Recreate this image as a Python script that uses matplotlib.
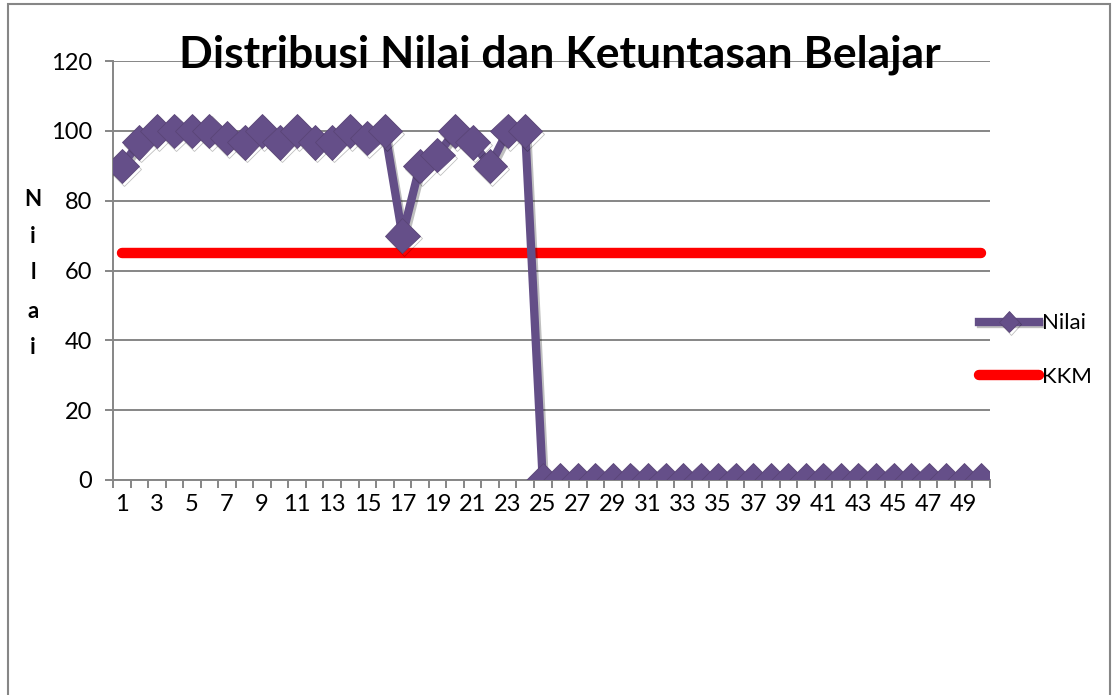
import matplotlib
matplotlib.use("Agg")
import matplotlib.pyplot as plt
import matplotlib.patheffects as pe
from matplotlib.patches import Rectangle

plt.rcParams['font.family'] = ['Lato', 'DejaVu Sans']

# data
siswa = list(range(1, 51))
nilai = [90, 96.67, 100, 100, 100, 100, 98, 96.67, 100, 96.67,
         100, 96.67, 96.67, 100, 98, 100, 70, 90, 93, 100,
         96.67, 90, 100, 100, 0, 0, 0, 0, 0, 0,
         0, 0, 0, 0, 0, 0, 0, 0, 0, 0,
         0, 0, 0, 0, 0, 0, 0, 0, 0, 0]
kkm = 65
yticks = [0, 20, 40, 60, 80, 100, 120]
xlabels = list(range(1, 50, 2))

grey = '#868686'
purple = '#634e87'

fig = plt.figure(figsize=(11.12, 6.95), dpi=100)
ax = fig.add_axes([113/1112, 1-480/695, 877/1112, 419/695])

ax.grid(axis='y', color=grey, lw=1.4, zorder=0)
ax.plot(siswa, [kkm]*len(siswa), color='red', lw=7.5, solid_capstyle='round',
        label='KKM', zorder=2)
shadow = [pe.SimpleLineShadow(offset=(1.5, -2), alpha=0.25), pe.Normal()]
ax.plot(siswa, nilai, color=purple, lw=6, marker='D', markersize=17.5,
        markerfacecolor='#654f89', markeredgecolor='#5a4577', markeredgewidth=0.6,
        label='Nilai', zorder=3, path_effects=shadow)

ax.set_xlim(0.5, 50.5)
ax.set_ylim(0, 120)
ax.set_yticks(yticks)
ax.set_xticks([i + 0.5 for i in range(0, 51)])
ax.set_xticklabels([])
ax.set_xticks(xlabels, minor=True)
ax.set_xticklabels([str(v) for v in xlabels], minor=True)
ax.tick_params(axis='x', which='major', direction='out', length=6, width=1.4, color=grey)
ax.tick_params(axis='x', which='minor', length=0, pad=10, labelsize=17)
ax.tick_params(axis='y', direction='out', length=6, width=1.4, color=grey, pad=9, labelsize=17)
for s in ['top', 'right']:
    ax.spines[s].set_visible(False)
for s in ['left', 'bottom']:
    ax.spines[s].set_color(grey)
    ax.spines[s].set_linewidth(1.4)

fig.text(560/1112, 1-55/695, 'Distribusi Nilai dan Ketuntasan Belajar',
         ha='center', va='center', fontsize=32, fontweight='bold')

ylab_y = [200, 237, 272, 312, 348]
for ch, yy in zip('Nilai', ylab_y):
    fig.text(33/1112, 1-yy/695, ch, ha='center', va='center', fontsize=16, fontweight='bold')

handles, labels = ax.get_legend_handles_labels()
fig.legend(handles[::-1], labels[::-1], loc='center left',
           bbox_to_anchor=(970/1112, 1-350/695), frameon=False, fontsize=16,
           handlelength=2.7, handletextpad=0.15, labelspacing=1.5, numpoints=1,
           markerscale=0.6, borderaxespad=0)

fig.patches.append(Rectangle((8/1112, -0.05), 1102/1112, 1.05-4/695,
                             transform=fig.transFigure, fill=False,
                             edgecolor=grey, lw=1.5))

fig.savefig('out.png', dpi=100)
